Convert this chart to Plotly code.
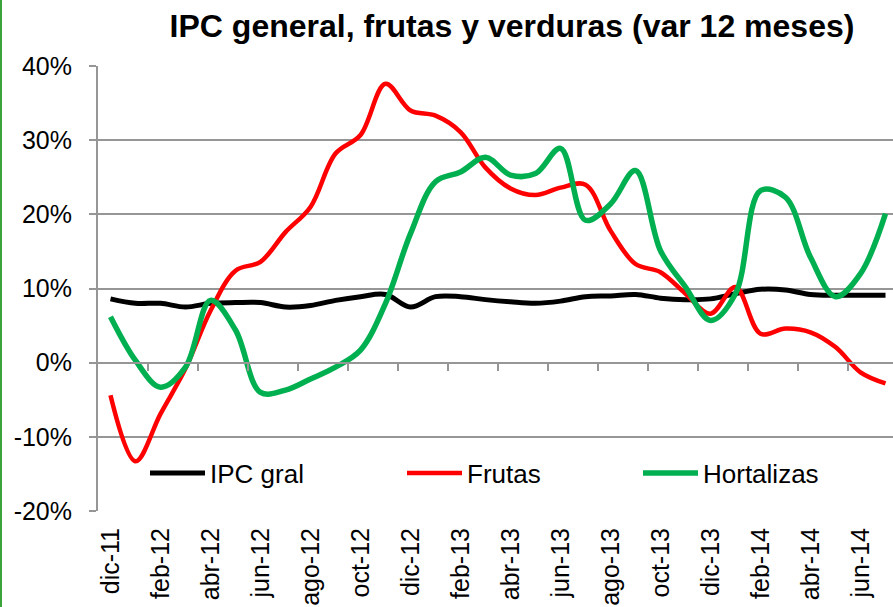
import plotly.graph_objects as go

months = ["dic-11", "ene-12", "feb-12", "mar-12", "abr-12", "may-12", "jun-12", "jul-12",
          "ago-12", "set-12", "oct-12", "nov-12", "dic-12", "ene-13", "feb-13", "mar-13",
          "abr-13", "may-13", "jun-13", "jul-13", "ago-13", "set-13", "oct-13", "nov-13",
          "dic-13", "ene-14", "feb-14", "mar-14", "abr-14", "may-14", "jun-14", "jul-14"]

ipc_gral = [8.6, 8.0, 8.0, 7.5, 8.0, 8.1, 8.1, 7.5, 7.7, 8.4, 8.9, 9.2, 7.5, 8.9, 8.9, 8.5,
            8.2, 8.0, 8.3, 8.9, 9.0, 9.2, 8.7, 8.5, 8.6, 9.3, 9.9, 9.8, 9.2, 9.1, 9.1, 9.1]

frutas = [-4.4, -13.3, -6.9, -0.8, 7.0, 12.4, 13.6, 17.6, 21.0, 28.2, 30.7, 37.6, 34.0, 33.3,
          31.1, 26.3, 23.5, 22.6, 23.6, 24.0, 17.8, 13.3, 12.2, 9.3, 6.6, 10.2, 3.9, 4.6,
          4.1, 2.1, -1.3, -2.8]

hortalizas = [6.2, 0.3, -3.3, -0.6, 8.4, 4.4, -4.0, -3.7, -2.2, -0.6, 1.7, 8.0, 17.4, 24.4,
              25.7, 27.7, 25.3, 25.5, 28.9, 19.2, 21.4, 25.9, 15.1, 10.2, 5.7, 9.3, 23.2,
              22.3, 14.2, 8.9, 12.0, 20.1]

y_ticks = [-20, -10, 0, 10, 20, 30, 40]

title = "IPC general, frutas y verduras (var 12 meses)"

FONT = "Arial, Liberation Sans, sans-serif"
GRID = "#969696"

W, H = 893, 607
L, R, T, B = 98, 0, 66, 96
plot_w = W - L - R
plot_h = H - T - B

idx = list(range(len(months)))
label_idx = idx[::2]
label_txt = months[::2]
boundaries = [i + 1.5 for i in idx[::2]][:-1]

fig = go.Figure()

fig.add_trace(go.Scatter(x=idx, y=ipc_gral, name="IPC gral", mode="lines",
                         line=dict(color="#000000", width=5, shape="spline"),
                         legend="legend"))
fig.add_trace(go.Scatter(x=idx, y=frutas, name="Frutas", mode="lines",
                         line=dict(color="#FF0000", width=4.5, shape="spline"),
                         legend="legend2"))
fig.add_trace(go.Scatter(x=idx, y=hortalizas, name="Hortalizas", mode="lines",
                         line=dict(color="#00B050", width=5.5, shape="spline"),
                         legend="legend3"))
# helper (empty) trace to carry the zero-line axis with tick marks
fig.add_trace(go.Scatter(x=[None], y=[None], xaxis="x2", showlegend=False, hoverinfo="skip"))

xr = [-0.5, -0.5 + plot_w / 25.0]

def legend_at(px_left, py_mid):
    return dict(
        x=(px_left - L) / plot_w, y=(H - B - py_mid) / plot_h,
        xanchor="left", yanchor="middle", bgcolor="rgba(0,0,0,0)",
        font=dict(family=FONT, size=26, color="#000000"),
        itemwidth=55, borderwidth=0, orientation="h",
    )

fig.update_layout(
    width=W, height=H,
    margin=dict(l=L, r=R, t=T, b=B, pad=0),
    paper_bgcolor="white", plot_bgcolor="white",
    title=dict(text="<b>" + title + "</b>", x=512 / W, xanchor="center", xref="container",
               y=1 - 26 / H, yanchor="middle", yref="container",
               font=dict(family=FONT, size=32, color="#000000")),
    xaxis=dict(range=xr, tickmode="array", tickvals=label_idx, ticktext=label_txt,
               tickangle=-90, showgrid=False, zeroline=False, showline=False, ticks="",
               tickfont=dict(family=FONT, size=25, color="#000000"),
               ticklabelstandoff=11, automargin=False),
    xaxis2=dict(range=xr, overlaying="x", anchor="free", position=1 / 3, side="bottom",
                tickmode="array", tickvals=boundaries, ticks="outside", ticklen=7,
                tickwidth=2, tickcolor=GRID, showline=True, linecolor=GRID, linewidth=2,
                showgrid=False, zeroline=False, showticklabels=False, automargin=False),
    yaxis=dict(range=[-20, 40], tickmode="array", tickvals=y_ticks,
               ticktext=[f"{v}%" for v in y_ticks],
               showgrid=True, gridcolor=GRID, gridwidth=2, zeroline=False,
               showline=True, linecolor=GRID, linewidth=2, ticks="outside", ticklen=7,
               tickwidth=2, tickcolor=GRID, ticklabelstandoff=12,
               tickfont=dict(family=FONT, size=25, color="#000000"), automargin=False),
    legend=legend_at(145, 473),
    legend2=legend_at(402, 473),
    legend3=legend_at(638, 473),
    shapes=[dict(type="line", xref="paper", yref="paper",
                 x0=(1 - L) / plot_w, x1=(1 - L) / plot_w,
                 y0=-B / plot_h, y1=(H - B) / plot_h,
                 line=dict(color="#3AA43A", width=2))],
    showlegend=True,
)

fig.write_html("out.html", config={"displayModeBar": False},
               post_script="document.body.style.margin='0';document.body.style.overflow='hidden';")
